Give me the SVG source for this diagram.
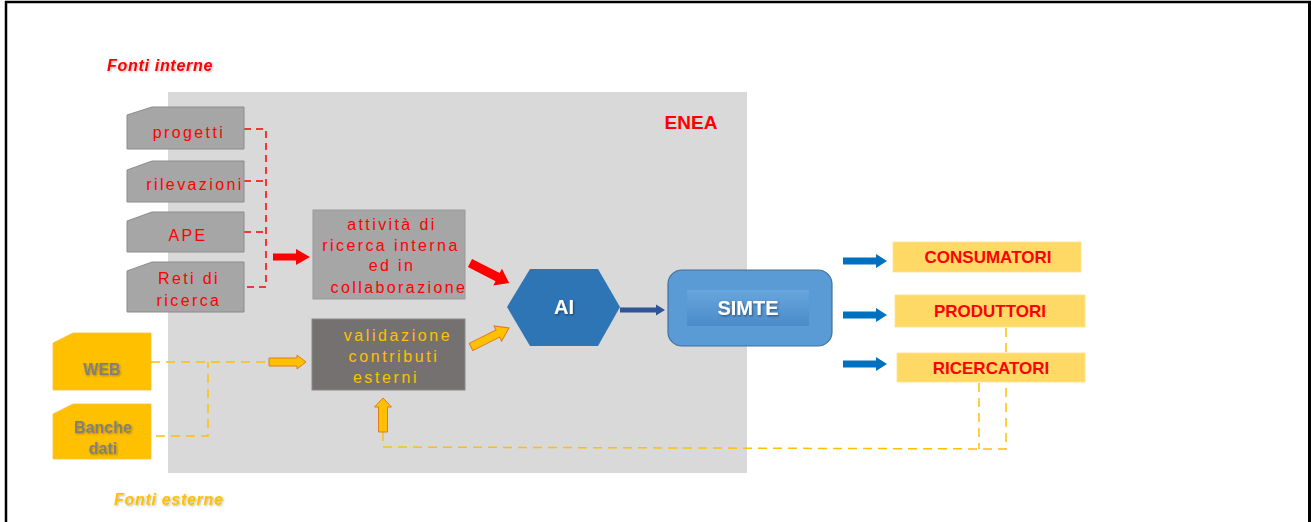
<svg xmlns="http://www.w3.org/2000/svg" width="1311" height="522" viewBox="0 0 1311 522">
<defs>
<style>
.src{fill:#a6a6a6;stroke:#8c8c8c;stroke-width:1}
.ext{fill:#ffc000;stroke:#f5c242;stroke-width:0.8}
.rt{font-family:"Liberation Sans",Arial,sans-serif;font-size:16px;fill:#ff0000;letter-spacing:2.4px;text-anchor:middle}
.yt{font-family:"Liberation Sans",Arial,sans-serif;font-size:16px;fill:#ffc000;letter-spacing:2.6px;text-anchor:middle}
.gt{font-family:"Liberation Sans",Arial,sans-serif;font-size:16px;font-weight:bold;fill:#7f7f7f;text-anchor:middle}
.ot{font-family:"Liberation Sans",Arial,sans-serif;font-size:17px;font-weight:bold;fill:#ff0000;text-anchor:middle}
.wt{font-family:"Liberation Sans",Arial,sans-serif;font-size:20px;font-weight:bold;fill:#ffffff;text-anchor:middle}
.lab{font-family:"Liberation Sans",Arial,sans-serif;font-size:16px;font-weight:bold;font-style:italic;letter-spacing:0.7px}
.out{fill:#ffd966;stroke:#ffe08a;stroke-width:0.8}
.rd{fill:none;stroke:#ff0000;stroke-width:1.5;stroke-dasharray:7 5}
.od{fill:none;stroke:#ffc000;stroke-width:1.5;stroke-dasharray:9 6}
</style>
<filter id="sh" x="-20%" y="-20%" width="140%" height="160%">
<feDropShadow dx="1" dy="1.2" stdDeviation="0.8" flood-color="#000" flood-opacity="0.45"/>
</filter>
<filter id="sh2" x="-20%" y="-20%" width="140%" height="160%">
<feDropShadow dx="1" dy="1" stdDeviation="0.8" flood-color="#000" flood-opacity="0.3"/>
</filter>
<linearGradient id="ig" x1="0" y1="0" x2="0" y2="1">
<stop offset="0" stop-color="#68a5dc"/>
<stop offset="1" stop-color="#4a8bc9"/>
</linearGradient>
</defs>

<!-- frame -->
<g id="frame" stroke="#000" fill="none">
<line x1="6" y1="1" x2="6" y2="522" stroke-width="2.5"/>
<line x1="5" y1="2" x2="1311" y2="2" stroke-width="2.5"/>
<line x1="1309.5" y1="1" x2="1309.5" y2="522" stroke-width="3"/>
</g>

<!-- ENEA area -->
<g id="enea">
<rect x="168" y="92" width="579" height="381" fill="#d9d9d9"/>
<text x="691" y="129" font-family="Liberation Sans,Arial,sans-serif" font-size="19" font-weight="bold" fill="#ff0000" text-anchor="middle">ENEA</text>
</g>

<g id="label-interne"><text class="lab" x="107" y="71" fill="#ff0000" filter="url(#sh2)">Fonti interne</text></g>
<g id="label-esterne"><text class="lab" x="114" y="505" fill="#ffc000" filter="url(#sh2)">Fonti esterne</text></g>

<!-- connectors -->
<g id="connectors">
<path class="rd" d="M244 129 H266 V287 H244 M244 181 H266 M244 232 H266"/>
<path class="od" d="M151 362 H265 M156 436 H208 V362"/>
<path class="od" d="M383 432 V447 L1006 449 V328 M979 383 V449"/>
<!-- red block arrow -->
<polygon points="273,253.5 296,253.5 296,249 310,257 296,265 296,260.5 273,260.5" fill="#ff0000"/>
<!-- red diagonal -->
<polygon transform="translate(470,263) rotate(27.1)" points="0,-4.5 31,-4.5 31,-9.5 44,0 31,9.5 31,4.5 0,4.5" fill="#ff0000"/>
<!-- orange diagonal -->
<polygon transform="translate(471,347) rotate(-26.6)" points="0,-4 30,-4 30,-8.5 42.5,0 30,8.5 30,4 0,4" fill="#ffc000" stroke="#e07b20" stroke-width="1"/>
<!-- orange right -->
<polygon transform="translate(269,362)" points="0,-4 28,-4 28,-7 37,0 28,7 28,4 0,4" fill="#ffc000" stroke="#e07b20" stroke-width="1"/>
<!-- orange up -->
<polygon transform="translate(383,432) rotate(-90)" points="0,-4.5 25,-4.5 25,-8.5 34,0 25,8.5 25,4.5 0,4.5" fill="#ffc000" stroke="#e07b20" stroke-width="1"/>
<!-- AI to SIMTE -->
<polygon transform="translate(620,310)" points="0,-2.5 36,-2.5 36,-5.5 45,0 36,5.5 36,2.5 0,2.5" fill="#2f5597"/>
<!-- blue arrows -->
<polygon transform="translate(843,261)" points="0,-3.5 33,-3.5 33,-7 44,0 33,7 33,3.5 0,3.5" fill="#0070c0"/>
<polygon transform="translate(843,315)" points="0,-3.5 33,-3.5 33,-7 44,0 33,7 33,3.5 0,3.5" fill="#0070c0"/>
<polygon transform="translate(843,364)" points="0,-3.5 33,-3.5 33,-7 44,0 33,7 33,3.5 0,3.5" fill="#0070c0"/>
</g>

<!-- internal sources -->
<g id="progetti">
<path class="src" d="M127 115 L152 107 H244 V149 H127 Z"/>
<text class="rt" x="189" y="138">progetti</text>
</g>
<g id="rilevazioni">
<path class="src" d="M127 170 L152 161 H244 V202 H127 Z"/>
<text class="rt" x="195" y="190">rilevazioni</text>
</g>
<g id="ape">
<path class="src" d="M127 221 L152 212 H244 V252 H127 Z"/>
<text class="rt" x="188" y="241">APE</text>
</g>
<g id="reti">
<path class="src" d="M127 271 L152 262 H244 V312 H127 Z"/>
<text class="rt" x="189" y="284">Reti di</text>
<text class="rt" x="189" y="306">ricerca</text>
</g>

<!-- external sources -->
<g id="web">
<path class="ext" d="M53 343 L73 333 H151 V390 H53 Z"/>
<text class="gt" x="102" y="375" filter="url(#sh2)">WEB</text>
</g>
<g id="banche">
<path class="ext" d="M53 414 L73 404 H151 V459 H53 Z"/>
<text class="gt" x="103" y="433" font-size="17" filter="url(#sh2)">Banche</text>
<text class="gt" x="103" y="454" font-size="17" filter="url(#sh2)">dati</text>
</g>

<!-- activity -->
<g id="attivita">
<rect x="313" y="210" width="152" height="89" fill="#a6a6a6" stroke="#9a9a9a" stroke-width="1"/>
<text class="rt" x="392" y="230">attività di</text>
<text class="rt" x="391" y="251">ricerca interna</text>
<text class="rt" x="392" y="271">ed in</text>
<text class="rt" x="399" y="293">collaborazione</text>
</g>

<g id="validazione">
<rect x="312" y="319" width="153" height="71" fill="#767171" stroke="#8a8a8a" stroke-width="1"/>
<text class="yt" x="398" y="341">validazione</text>
<text class="yt" x="394" y="362">contributi</text>
<text class="yt" x="386" y="383">esterni</text>
</g>

<!-- AI -->
<g id="ai">
<polygon points="507,307 530,269 598,269 620,307 598,346 530,346" fill="#2e75b6"/>
<text class="wt" x="564" y="314" filter="url(#sh)">AI</text>
</g>

<!-- SIMTE -->
<g id="simte">
<rect x="668" y="270" width="164" height="76" rx="14" ry="14" fill="#5b9bd5" stroke="#41719c" stroke-width="1.2"/>
<rect x="687" y="290" width="122" height="36" fill="url(#ig)"/>
<text class="wt" x="748" y="315" filter="url(#sh)">SIMTE</text>
</g>

<!-- outputs -->
<g id="consumatori">
<rect class="out" x="893" y="242" width="188" height="30"/>
<text class="ot" x="988" y="263">CONSUMATORI</text>
</g>
<g id="produttori">
<rect class="out" x="895" y="295" width="190" height="32"/>
<text class="ot" x="990" y="317">PRODUTTORI</text>
</g>
<g id="ricercatori">
<rect class="out" x="897" y="353" width="188" height="29"/>
<text class="ot" x="991" y="374">RICERCATORI</text>
</g>
</svg>
